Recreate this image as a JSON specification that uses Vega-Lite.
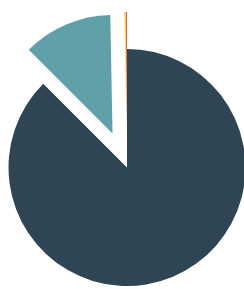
{
  "$schema": "https://vega.github.io/schema/vega-lite/v6.json",
  "width": 244,
  "height": 289,
  "padding": 0,
  "autosize": {"type": "none"},
  "background": "white",
  "config": {"view": {"stroke": null}},
  "data": {"values": [
    {"category": "A", "value": 87.5, "sliced": false, "rank": 1},
    {"category": "B", "value": 12.2, "sliced": true, "rank": 2},
    {"category": "C", "value": 0.15, "sliced": true, "rank": 3},
    {"category": "D", "value": 0.15, "sliced": true, "rank": 4}
  ]},
  "transform": [
    {"window": [{"op": "sum", "field": "value", "as": "cum"}], "sort": [{"field": "rank"}], "frame": [null, 0]},
    {"joinaggregate": [{"op": "sum", "field": "value", "as": "total"}]},
    {"calculate": "2*PI*(datum.cum - datum.value/2)/datum.total", "as": "mid"},
    {"calculate": "datum.sliced ? 37*sin(datum.mid) : 0", "as": "dx"},
    {"calculate": "datum.sliced ? 37*cos(datum.mid) : 0", "as": "dy"}
  ],
  "mark": {"type": "arc", "radius": 118.5},
  "encoding": {
    "theta": {"field": "value", "type": "quantitative", "stack": true},
    "order": {"field": "rank"},
    "color": {"field": "category", "type": "nominal", "scale": {"domain": ["A", "B", "C", "D"], "range": ["#2f4554", "#61a0a8", "#f2e01c", "#d9312b"]}, "legend": null},
    "x": {"field": "dx", "type": "quantitative", "scale": {"domain": [-127, 117], "nice": false, "zero": false}, "axis": null},
    "y": {"field": "dy", "type": "quantitative", "scale": {"domain": [-121.5, 167.5], "nice": false, "zero": false}, "axis": null}
  }
}
